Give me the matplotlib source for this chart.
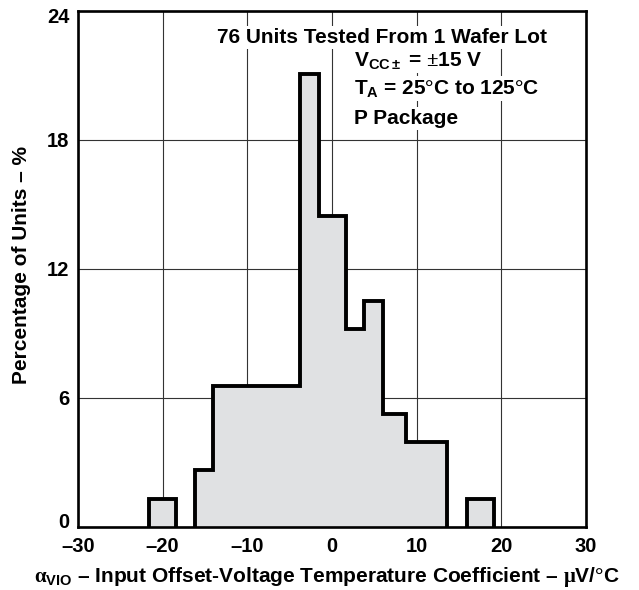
import matplotlib
matplotlib.use("Agg")
import matplotlib.pyplot as plt
from matplotlib.transforms import ScaledTranslation

plt.rcParams['font.family'] = ['Liberation Sans', 'DejaVu Sans']
plt.rcParams['font.weight'] = 'bold'
plt.rcParams['mathtext.fontset'] = 'custom'
plt.rcParams['mathtext.rm'] = 'Liberation Serif'
plt.rcParams['mathtext.it'] = 'Liberation Serif'
plt.rcParams['mathtext.bf'] = 'Liberation Sans:bold'

# histogram (percent of 76 units)
left_edges = [-21.6, -18.4]
left_pct = [1.32]
main_edges = [-16.2, -14.0, -3.8, -1.5, 1.6, 3.8, 6.0, 8.7, 13.6]
main_pct = [2.63, 6.58, 21.05, 14.47, 9.21, 10.53, 5.26, 3.95]
right_edges = [15.9, 19.1]
right_pct = [1.32]

xticks = [-30, -20, -10, 0, 10, 20, 30]
yticks = [0, 6, 12, 18, 24]

fig = plt.figure(figsize=(6.39, 5.90), dpi=100)
ax = fig.add_axes([0.122, 0.1068, 0.795, 0.8746])

ax.set_xlim(-30, 30)
ax.set_ylim(0, 24)
ax.set_xticks(xticks)
ax.set_yticks(yticks)
ax.set_xticklabels([str(t).replace('-', '\u2013') for t in xticks], fontsize=14.5, fontweight='bold')
ax.set_yticklabels([str(t) for t in yticks], fontsize=14.5, fontweight='bold')
ax.tick_params(length=0)
ax.tick_params(axis='x', pad=7)
ax.tick_params(axis='y', pad=6)
ax.grid(True, color='#333333', linewidth=0.8)
ax.set_axisbelow(True)
for s in ax.spines.values():
    s.set_linewidth(1.9)
    s.set_zorder(5)

# end labels sit a little inside the frame
ylabs = ax.get_yticklabels()
ylabs[0].set_transform(ylabs[0].get_transform() + ScaledTranslation(0, 5 / 72, fig.dpi_scale_trans))
ylabs[-1].set_transform(ylabs[-1].get_transform() + ScaledTranslation(0, -3.5 / 72, fig.dpi_scale_trans))

for e, v in [(left_edges, left_pct), (main_edges, main_pct), (right_edges, right_pct)]:
    ax.stairs(v, e, fill=True, color='#e0e1e3', zorder=2)
    ax.stairs(v, e, baseline=0, fill=False, color='black', linewidth=2.8, zorder=3)

box = dict(facecolor='white', edgecolor='none', pad=1.5)
ax.text(0.598, 0.9374, '76 Units Tested From 1 Wafer Lot', transform=ax.transAxes,
        ha='center', va='baseline', fontsize=15, fontweight='bold', bbox=box, zorder=4)
ax.text(0.5433, 0.8934, r'V$_{\mathbf{CC\pm}}$ = $\pm$15 V', transform=ax.transAxes,
        ha='left', va='baseline', fontsize=15, fontweight='bold', bbox=box, zorder=4)
ax.text(0.5433, 0.8385, r'T$_{\mathbf{A}}$ = 25$\degree$C to 125$\degree$C', transform=ax.transAxes,
        ha='left', va='baseline', fontsize=15, fontweight='bold', bbox=box, zorder=4)
ax.text(0.5433, 0.7816, 'P Package', transform=ax.transAxes,
        ha='left', va='baseline', fontsize=15, fontweight='bold', bbox=box, zorder=4)

fig.text(0.033, 0.551, 'Percentage of Units \u2013 %', rotation=90, ha='center', va='center',
         fontsize=15, fontweight='bold')
fig.text(0.511, 0.022, r'$\alpha_{\mathbf{VIO}}$ ' + '\u2013 Input Offset-Voltage Temperature Coefficient \u2013 '
         + r'$\mu$V/$\degree$C',
         ha='center', va='center', fontsize=15, fontweight='bold')

fig.savefig('out.png', dpi=100)
